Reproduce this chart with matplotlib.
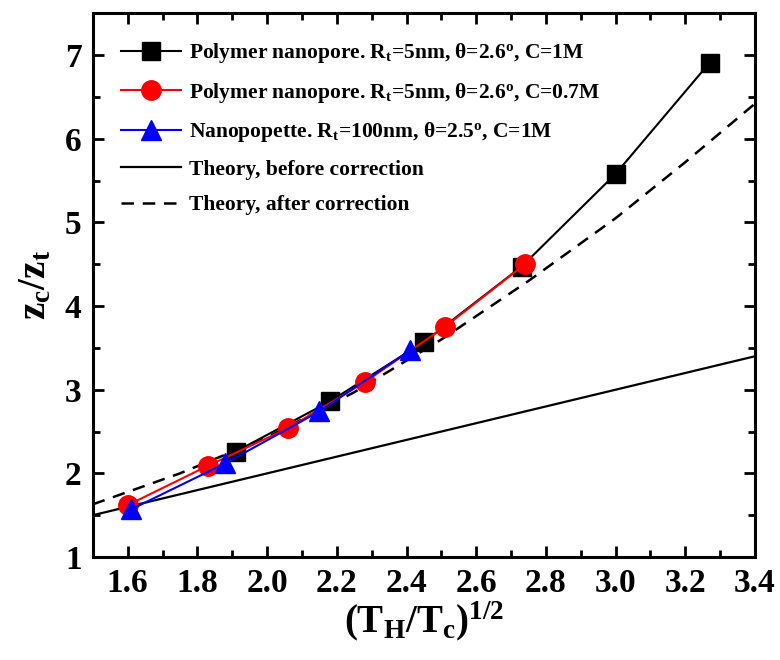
import matplotlib
matplotlib.use("Agg")
import matplotlib.pyplot as plt
from matplotlib.ticker import MultipleLocator

plt.rcParams["font.family"] = ["Liberation Serif", "DejaVu Serif"]
plt.rcParams["font.weight"] = "bold"
plt.rcParams["mathtext.fontset"] = "custom"
plt.rcParams["mathtext.rm"] = "Liberation Serif:bold"
plt.rcParams["mathtext.it"] = "Liberation Serif:italic:bold"
plt.rcParams["mathtext.bf"] = "Liberation Serif:bold"

# polymer nanopore, C=1M (black squares)
x_poly1 = [1.91, 2.18, 2.45, 2.73, 3.00, 3.27]
y_poly1 = [2.26, 2.86, 3.57, 4.47, 5.58, 6.91]
# polymer nanopore, C=0.7M (red circles)
x_poly07 = [1.60, 1.83, 2.06, 2.28, 2.51, 2.74]
y_poly07 = [1.62, 2.09, 2.54, 3.09, 3.75, 4.50]
# nanopipette (blue triangles)
x_pip = [1.61, 1.88, 2.15, 2.41]
y_pip = [1.57, 2.12, 2.74, 3.47]
# theory curves
x_before = [1.5, 3.4]
y_before = [1.5, 3.4]
x_after = [1.50, 1.75, 2.00, 2.25, 2.50, 2.75, 3.00, 3.20, 3.40]
y_after = [1.63, 2.00, 2.43, 2.97, 3.60, 4.30, 5.05, 5.72, 6.42]

labels = [
    r"Polymer nanopore. R$_\mathrm{t}$=5nm, θ=2.6$^\mathrm{o}$, C=1M",
    r"Polymer nanopore. R$_\mathrm{t}$=5nm, θ=2.6$^\mathrm{o}$, C=0.7M",
    r"Nanopopette. R$_\mathrm{t}$=100nm, θ=2.5$^\mathrm{o}$, C=1M",
    "Theory, before correction",
    "Theory, after correction",
]

fig = plt.figure(figsize=(7.8, 6.6), dpi=100)
ax = fig.add_axes([0.119, 0.156, 0.849, 0.824])

l1, = ax.plot(x_poly1, y_poly1, "-s", color="black", lw=1.5, ms=12.5, label=labels[0])
l2, = ax.plot(x_poly07, y_poly07, "-o", color="red", lw=1.5, ms=14, label=labels[1])
l3, = ax.plot(x_pip, y_pip, "-^", color="blue", lw=1.5, ms=14, label=labels[2])
l4, = ax.plot(x_before, y_before, "-", color="black", lw=1.6, label=labels[3], zorder=1)
l5, = ax.plot(x_after, y_after, "--", color="black", lw=1.8, dashes=(5, 3.5), label=labels[4], zorder=1)

ax.set_xlim(1.5, 3.4)
ax.set_ylim(1, 7.5)
ax.xaxis.set_major_locator(MultipleLocator(0.2))
ax.xaxis.set_minor_locator(MultipleLocator(0.1))
ax.yaxis.set_major_locator(MultipleLocator(1))
ax.yaxis.set_minor_locator(MultipleLocator(0.5))
ax.tick_params(which="both", direction="in", top=True, right=True, width=2)
ax.tick_params(which="major", length=8, labelsize=24, pad=8)
ax.tick_params(which="minor", length=5)
for lab in ax.get_xticklabels() + ax.get_yticklabels():
    lab.set_fontweight("bold")
for sp in ax.spines.values():
    sp.set_linewidth(2.2)

ax.set_xlabel(r"(T$_\mathrm{H}$/T$_\mathrm{c}$)$^\mathrm{1/2}$", fontsize=28, fontweight="bold", labelpad=0)
ax.set_ylabel(r"z$_\mathrm{c}$/z$_\mathrm{t}$", fontsize=28, fontweight="bold", labelpad=8)

leg = ax.legend(handles=[l1, l2, l3, l4, l5], loc="upper left", frameon=False,
                numpoints=1, handlelength=2.8, handletextpad=0.35,
                prop={"size": 15.5, "weight": "bold"}, labelspacing=0.72,
                borderaxespad=0.9)

fig.savefig("out.png", dpi=100)
